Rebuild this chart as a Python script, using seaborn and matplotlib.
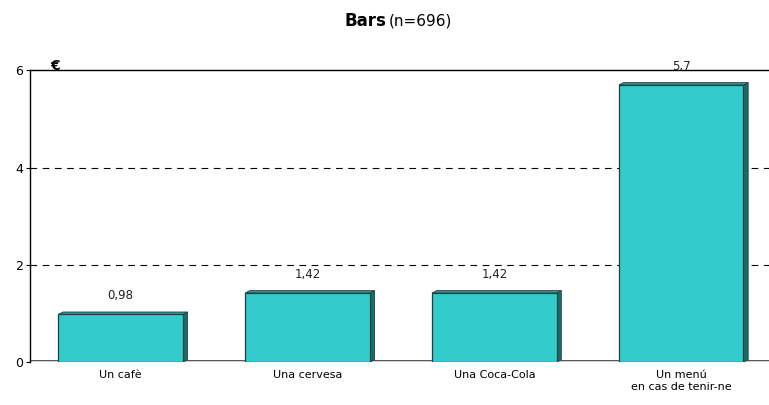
import matplotlib
matplotlib.use("Agg")
import matplotlib.pyplot as plt
import seaborn as sns
import pandas as pd
from matplotlib.patches import Polygon

categories = ["Un cafè", "Una cervesa", "Una Coca-Cola", "Un menú\nen cas de tenir-ne"]
values = [0.98, 1.42, 1.42, 5.7]
value_labels = ["0,98", "1,42", "1,42", "5,7"]
yticks = [0, 2, 4, 6]

df = pd.DataFrame({"cat": categories, "val": values})

sns.set_style("white")
plt.rcParams["font.family"] = ["DejaVu Sans"]
plt.rcParams["text.color"] = "black"
plt.rcParams["xtick.color"] = "black"
plt.rcParams["ytick.color"] = "black"

fig = plt.figure(figsize=(7.69, 4.05), dpi=100)
ax = fig.add_axes([0.039, 0.106, 0.961, 0.720])

sns.barplot(data=df, x="cat", y="val", ax=ax, color="#33CCCC", width=0.667,
            edgecolor="#1f3f3f", linewidth=0.9, saturation=1, zorder=3)

ax.set_xlim(-0.485, 3.47)
ax.set_ylim(0, 6)
ax.set_yticks(yticks)
ax.set_yticklabels([str(t) for t in yticks], fontsize=9)
ax.tick_params(axis="y", length=3, width=0.8, pad=2, left=True)
ax.tick_params(axis="x", length=0, labelsize=8, pad=6)
ax.set_xlabel("")
ax.set_ylabel("")

for s in ["right", "bottom"]:
    ax.spines[s].set_visible(False)
ax.spines["left"].set_linewidth(1.0)
ax.spines["left"].set_color("black")
ax.spines["top"].set_linewidth(1.0)
ax.spines["top"].set_color("black")

for y in [2, 4]:
    ax.axhline(y, color="black", linestyle=(0, (6, 5)), linewidth=0.8, zorder=1)

# floor lines (3D base)
ax.axhline(0, color="black", linewidth=1.0, zorder=2)
ax.axhline(0.04, color="#555555", linewidth=0.7, zorder=2)

# 3D depth for bars, derived from bar patches
dx = 0.025
dy = 0.05
for p, lab in zip(ax.patches, value_labels):
    x0 = p.get_x(); w = p.get_width(); h = p.get_height()
    side = Polygon([(x0 + w, 0), (x0 + w + dx, dy), (x0 + w + dx, h + dy), (x0 + w, h)],
                   closed=True, facecolor="#1b6b6b", edgecolor="#1f3f3f", linewidth=0.6, zorder=2.9)
    top = Polygon([(x0, h), (x0 + dx, h + dy), (x0 + w + dx, h + dy), (x0 + w, h)],
                  closed=True, facecolor="#2a9a9a", edgecolor="#1f3f3f", linewidth=0.6, zorder=2.9)
    ax.add_patch(side)
    ax.add_patch(top)
    ax.text(x0 + w / 2, h + 0.25, lab, ha="center", va="bottom", fontsize=8.5, color="#222222", zorder=4)

ax.text(-0.35, 6.1, "€", ha="center", va="center", fontsize=10, fontweight="bold", color="black", clip_on=False)

fig.text(0.502, 0.948, "Bars", ha="right", va="center", fontsize=12, fontweight="bold")
fig.text(0.505, 0.948, "(n=696)", ha="left", va="center", fontsize=11)

fig.savefig("out.png", dpi=100)
